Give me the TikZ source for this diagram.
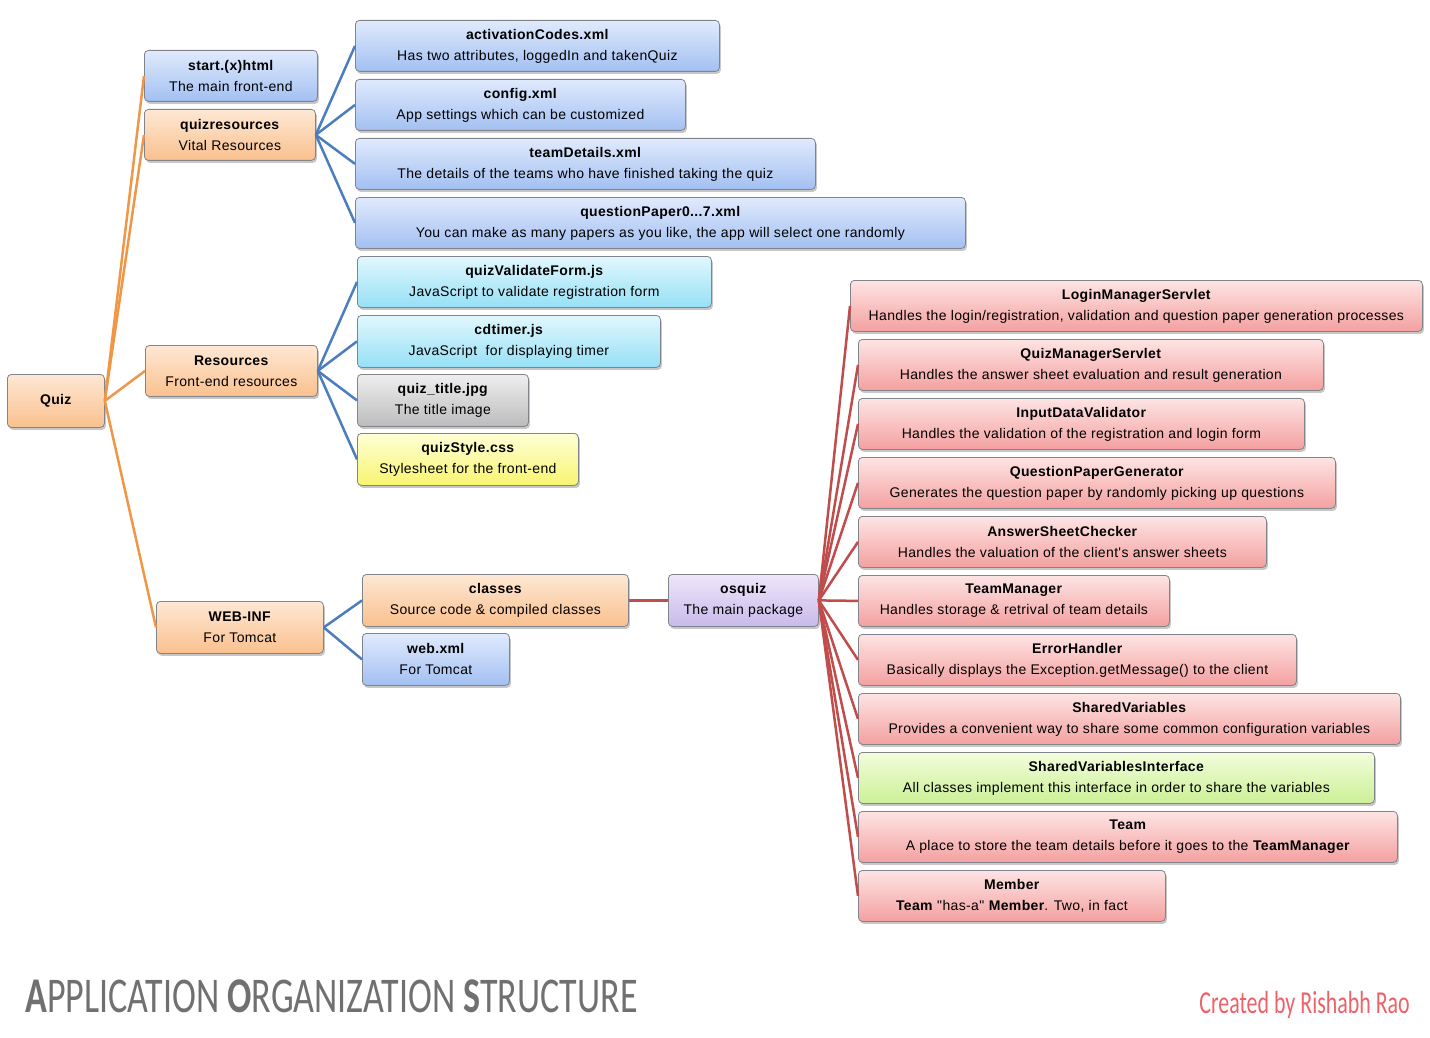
\documentclass[tikz,border=0pt]{standalone}
\usepackage{fontspec}
\setmainfont[LetterSpace=2.5, Ligatures=TeXOff]{Liberation Sans}
\newfontfamily\bannerfont[FakeStretch=0.72]{Carlito}
\newfontfamily\creditfont[FakeStretch=0.685]{Carlito}
\usepackage{tikz}
\usetikzlibrary{shadows}
\definecolor{boxrim}{RGB}{130,132,140}
\definecolor{bluetop}{RGB}{224,234,253}
\definecolor{bluebot}{RGB}{163,192,242}
\definecolor{orangetop}{RGB}{254,232,212}
\definecolor{orangebot}{RGB}{250,192,142}
\definecolor{cyantop}{RGB}{225,247,253}
\definecolor{cyanbot}{RGB}{150,224,246}
\definecolor{graytop}{RGB}{238,238,238}
\definecolor{graybot}{RGB}{188,188,188}
\definecolor{yellowtop}{RGB}{255,255,214}
\definecolor{yellowbot}{RGB}{248,244,112}
\definecolor{purpletop}{RGB}{238,230,250}
\definecolor{purplebot}{RGB}{200,186,234}
\definecolor{redtop}{RGB}{254,228,228}
\definecolor{redbot}{RGB}{244,160,160}
\definecolor{greentop}{RGB}{242,253,220}
\definecolor{greenbot}{RGB}{204,240,150}
\definecolor{orangewire}{RGB}{240,150,70}
\definecolor{bluewire}{RGB}{76,126,190}
\definecolor{redwire}{RGB}{192,76,76}
\definecolor{bannergray}{RGB}{112,112,112}
\definecolor{signred}{RGB}{236,98,104}

\begin{document}
\begin{tikzpicture}[x=1pt, y=-1pt, every node/.style={font=\fontsize{14}{21}\selectfont},
		box/.style={draw=boxrim, line width=0.8pt, rounded corners=4pt, anchor=north west, minimum height=51pt, inner sep=0pt, align=center,
			drop shadow={shadow xshift=1.5pt, shadow yshift=-2.5pt, fill=black, opacity=0.22}},
		bluebox/.style={box, top color=bluetop, bottom color=bluebot},
		orangebox/.style={box, top color=orangetop, bottom color=orangebot},
		cyanbox/.style={box, top color=cyantop, bottom color=cyanbot},
		graybox/.style={box, top color=graytop, bottom color=graybot},
		yellowbox/.style={box, top color=yellowtop, bottom color=yellowbot},
		purplebox/.style={box, top color=purpletop, bottom color=purplebot},
		redbox/.style={box, top color=redtop, bottom color=redbot},
		greenbox/.style={box, top color=greentop, bottom color=greenbot},
		orangelink/.style={orangewire, line width=2.5pt},
		bluelink/.style={bluewire, line width=2.5pt},
		redlink/.style={redwire, line width=2.5pt}]
	\useasboundingbox (0,0) rectangle (1430,1038);
	% root and first level
	\node[orangebox, minimum width=97pt, minimum height=53pt] (quiz) at (7,374) {\textbf{Quiz}};
	\node[bluebox, minimum width=173pt] (start) at (144,50) {\textbf{start.(x)html}\\ The main front-end};
	\node[orangebox, minimum width=171pt] (qres) at (144,109) {\textbf{quizresources}\\ Vital Resources};
	\node[orangebox, minimum width=172pt] (res) at (145,345) {\textbf{Resources}\\ Front-end resources};
	\node[orangebox, minimum width=167pt, minimum height=52pt] (webinf) at (156,601) {\textbf{WEB-INF}\\ For Tomcat};
	% quizresources
	\node[bluebox, minimum width=364pt] (actcodes) at (355,20) {\textbf{activationCodes.xml}\\ Has two attributes, loggedIn and takenQuiz};
	\node[bluebox, minimum width=330pt] (config) at (355,79) {\textbf{config.xml}\\ App settings which can be customized};
	\node[bluebox, minimum width=460pt] (teamdet) at (355,138) {\textbf{teamDetails.xml}\\ The details of the teams who have finished taking the quiz};
	\node[bluebox, minimum width=610pt] (qpaper) at (355,197) {\textbf{questionPaper0...7.xml}\\ You can make as many papers as you like, the app will select one randomly};
	% Resources
	\node[cyanbox, minimum width=354pt] (validate) at (357,256) {\textbf{quizValidateForm.js}\\ JavaScript to validate registration form};
	\node[cyanbox, minimum width=303pt, minimum height=52pt] (cdtimer) at (357,315) {\textbf{cdtimer.js}\\ JavaScript\ \ for displaying timer};
	\node[graybox, minimum width=171pt, minimum height=52pt] (titlejpg) at (357,374) {\textbf{quiz\_title.jpg}\\ The title image};
	\node[yellowbox, minimum width=221pt, minimum height=52pt] (style) at (357,433) {\textbf{quizStyle.css}\\ Stylesheet for the front-end};
	% WEB-INF
	\node[orangebox, minimum width=266pt, minimum height=52pt] (classes) at (362,574) {\textbf{classes}\\ Source code \& compiled classes};
	\node[bluebox, minimum width=147pt, minimum height=52pt] (webxml) at (362,633) {\textbf{web.xml}\\ For Tomcat};
	\node[purplebox, minimum width=150pt, minimum height=52pt] (osquiz) at (668,574) {\textbf{osquiz}\\ The main package};
	% osquiz
	\node[redbox, minimum width=572pt] (loginmgr) at (850,280) {\textbf{LoginManagerServlet}\\ Handles the login/registration, validation and question paper generation processes};
	\node[redbox, minimum width=465pt] (quizmgr) at (858,339) {\textbf{QuizManagerServlet}\\ Handles the answer sheet evaluation and result generation};
	\node[redbox, minimum width=446pt] (inputval) at (858,398) {\textbf{InputDataValidator}\\ Handles the validation of the registration and login form};
	\node[redbox, minimum width=477pt] (qpgen) at (858,457) {\textbf{QuestionPaperGenerator}\\ Generates the question paper by randomly picking up questions};
	\node[redbox, minimum width=408pt] (anschk) at (858,516) {\textbf{AnswerSheetChecker}\\ Handles the valuation of the client's answer sheets};
	\node[redbox, minimum width=311pt] (teammgr) at (858,575) {\textbf{TeamManager}\\ Handles storage \& retrival of team details};
	\node[redbox, minimum width=438pt] (errhdl) at (858,634) {\textbf{ErrorHandler}\\ Basically displays the Exception.getMessage() to the client};
	\node[redbox, minimum width=542pt] (sharedvar) at (858,693) {\textbf{SharedVariables}\\ Provides a convenient way to share some common configuration variables};
	\node[greenbox, minimum width=516pt] (sharediface) at (858,752) {\textbf{SharedVariablesInterface}\\ All classes implement this interface in order to share the variables};
	\node[redbox, minimum width=539pt] (team) at (858,811) {\textbf{Team}\\ A place to store the team details before it goes to the \textbf{TeamManager}};
	\node[redbox, minimum width=307pt] (member) at (858,870) {\textbf{Member}\\ \textbf{Team} "has-a" \textbf{Member}. Two, in fact};
	% connectors
	\foreach \kid in {start,qres,res,webinf}
		\draw[orangelink] (quiz.east) -- (\kid.west);
	\foreach \kid in {actcodes,config,teamdet,qpaper}
		\draw[bluelink] (qres.east) -- (\kid.west);
	\foreach \kid in {validate,cdtimer,titlejpg,style}
		\draw[bluelink] (res.east) -- (\kid.west);
	\foreach \kid in {classes,webxml}
		\draw[bluelink] (webinf.east) -- (\kid.west);
	\draw[redlink] (classes.east) -- (osquiz.west);
	\foreach \kid in {loginmgr,quizmgr,inputval,qpgen,anschk,teammgr,errhdl,sharedvar,sharediface,team,member}
		\draw[redlink] (osquiz.east) -- (\kid.west);
	% captions
	\node[anchor=base west, inner sep=0pt, text=bannergray, font=\bannerfont\fontsize{50}{50}\selectfont] (banner) at (25,1012)
		{\textbf{A}PPLICATION \textbf{O}RGANIZATION \textbf{S}TRUCTURE};
	\node[anchor=base east, inner sep=0pt, text=signred, font=\creditfont\fontsize{32}{32}\selectfont] (credit) at (1410,1013) {Created by Rishabh Rao};
\end{tikzpicture}
\end{document}
